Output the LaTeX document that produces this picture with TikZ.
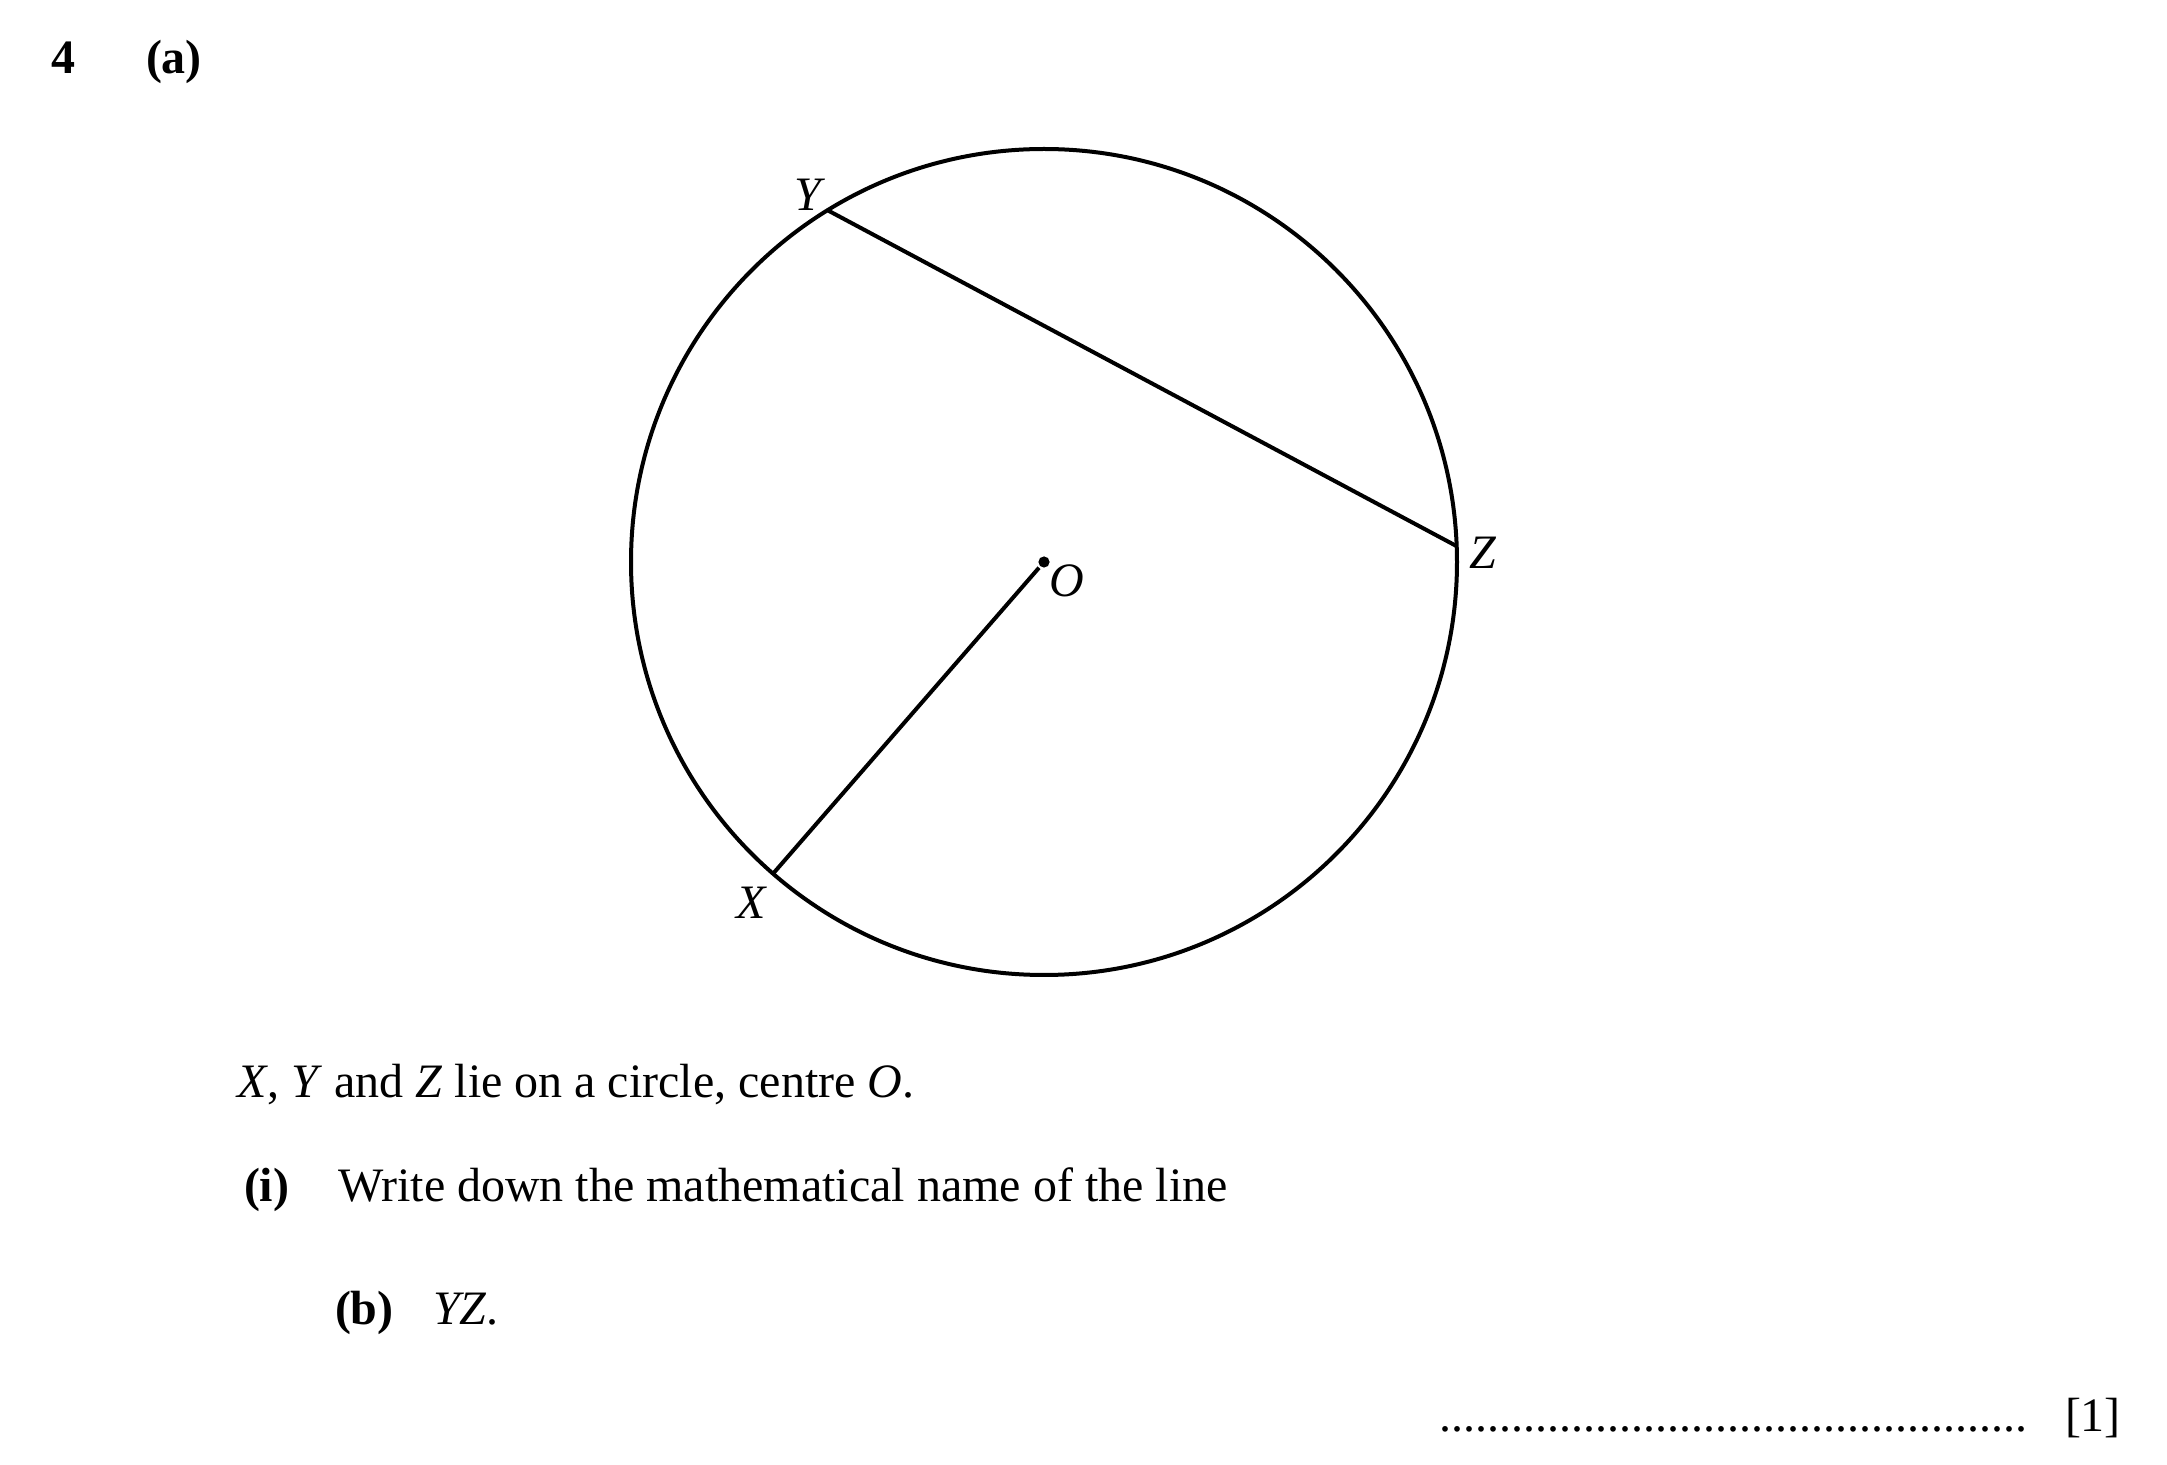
\documentclass[tikz,border=0pt,12pt]{standalone}
\usepackage{fontspec}
\setmainfont{Liberation Serif}
\tikzset{
          dot/.style={circle, fill=black, minimum size=2.8pt, inner sep=0pt},
          lbl/.style={draw=none, fill=none, inner sep=0pt, anchor=center},
          txt/.style={draw=none, fill=none, inner sep=0pt, anchor=base west}
        }

\begin{document}
\begin{tikzpicture}[x=0.25pt, y=-0.25pt, line width=1pt,
        dot/.style={circle, fill=black, minimum size=2.8pt, inner sep=0pt},
        lbl/.style={draw=none, fill=none, inner sep=0pt, anchor=center},
        font=\fontsize{12}{14}\selectfont
      ]
  \useasboundingbox (0,0) rectangle (2167,1465);

  % heading
  \node[txt] (num) at (49,74) {\textbf{4}};
  \node[txt] (part) at (144,74) {\textbf{(a)}};

  % circle, centre O
  \node[dot] (O) at (1044,562) {};
  \draw (O) circle (413);
  \path (O) ++(-121.6:413) coordinate (Y);
  \path (O) ++(-2.2:413) coordinate (Z);
  \path (O) ++(-229:413) coordinate (X);
  \draw (Y) -- (Z);
  \draw (O) -- (X);
  \node[lbl] (lY) at (810,195) {\textit{Y}};
  \node[lbl] (lZ) at (1483,553) {\textit{Z}};
  \node[lbl] (lO) at (1067,581) {\textit{O}};
  \node[lbl] (lX) at (752,903) {\textit{X}};

  % question text
  \node[txt] (stem) at (236,1098) {\textit{X}, \textit{Y} and \textit{Z} lie on a circle, centre \textit{O}.};
  \node[txt] (pi) at (242,1202) {\textbf{(i)}};
  \node[txt] (qi) at (336,1202) {Write down the mathematical name of the line};
  \node[txt] (pb) at (333,1324) {\textbf{(b)}};
  \node[txt] (qb) at (431,1324) {\textit{YZ}.};

  % answer line
  \node[txt] (ans) at (1437,1432) {\foreach \k in {1,...,49}{.}};
  \node[txt] (mark) at (2063,1432) {[1]};
\end{tikzpicture}
\end{document}
